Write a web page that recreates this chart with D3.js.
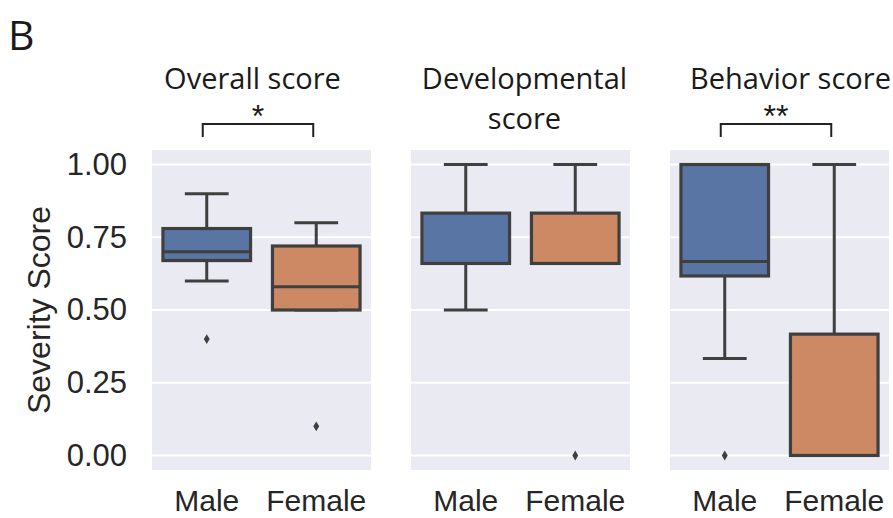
<!DOCTYPE html>
<html>
<head>
<meta charset="utf-8">
<script src="https://cdn.jsdelivr.net/npm/d3@7"></script>
<style>
  html, body { margin: 0; padding: 0; background: #ffffff; }
  svg { display: block; }
</style>
</head>
<body>
<svg id="chart" width="893" height="518"></svg>
<script>
// ---- data ----
const categories = ["Male", "Female"];
const panelTitles = [["Overall score"], ["Developmental", "score"], ["Behavior score"]];
// five-number summaries per panel: [lower whisker, Q1, median, Q3, upper whisker]
const maleStats = [
  [0.60, 0.67, 0.70, 0.78, 0.90],
  [0.50, 0.66, 0.66, 0.833, 1.00],
  [0.333, 0.617, 0.667, 1.00, 1.00]
];
const femaleStats = [
  [0.50, 0.50, 0.58, 0.72, 0.80],
  [0.66, 0.66, 0.66, 0.833, 1.00],
  [0.00, 0.00, 0.00, 0.417, 1.00]
];
const maleOutliers = [[0.40], [], [0.00]];
const femaleOutliers = [[0.10], [0.00], []];
const significance = ["*", "", "**"];
const yTicks = [0.00, 0.25, 0.50, 0.75, 1.00];
const yLabel = "Severity Score";
const panelLetter = "B";

// ---- styling ----
const colors = { Male: "#5975a4", Female: "#cc8963" };
const lineColor = "#3f3f3f";
const textColor = "#262626";
const tickFont = "'Liberation Sans', Arial, Helvetica, sans-serif";
const titleFont = "'Open Sans', 'Noto Sans', sans-serif";
const titleShift = [-9, 4, 11];

const svg = d3.select("#chart");

const panelScale = d3.scaleBand()
  .domain(d3.range(panelTitles.length))
  .range([152, 889])
  .paddingInner(40 / 259);

const y = d3.scaleLinear().domain([-0.05, 1.05]).range([470, 150]);

const x = d3.scaleBand().domain(categories).range([0, panelScale.bandwidth()]);
const boxW = x.bandwidth() * 0.8;
const capW = boxW * 0.5;

// thin diamond outlier marker
const thinDiamond = {
  draw(ctx, size) {
    const h = Math.sqrt(size) * 0.9;
    const w = h * 0.6;
    ctx.moveTo(0, -h);
    ctx.lineTo(w, 0);
    ctx.lineTo(0, h);
    ctx.lineTo(-w, 0);
    ctx.closePath();
  }
};

panelTitles.forEach((title, i) => {
  const g = svg.append("g").attr("transform", `translate(${panelScale(i)},0)`);
  const pw = panelScale.bandwidth();

  // background
  g.append("rect")
    .attr("x", 0).attr("y", y(1.05))
    .attr("width", pw).attr("height", y(-0.05) - y(1.05))
    .attr("fill", "#eaeaf2");

  // gridlines
  g.selectAll("line.grid").data(yTicks).join("line")
    .attr("class", "grid")
    .attr("x1", 0).attr("x2", pw)
    .attr("y1", d => y(d)).attr("y2", d => y(d))
    .attr("stroke", "#ffffff").attr("stroke-width", 2);

  // boxes
  const series = [
    { cat: "Male", s: maleStats[i], out: maleOutliers[i] },
    { cat: "Female", s: femaleStats[i], out: femaleOutliers[i] }
  ];
  series.forEach(({ cat, s, out }) => {
    const cx = x(cat) + x.bandwidth() / 2;
    const [lo, q1, med, q3, hi] = s;
    const bg = g.append("g");
    if (hi > q3) {
      bg.append("line").attr("x1", cx).attr("x2", cx).attr("y1", y(q3)).attr("y2", y(hi))
        .attr("stroke", lineColor).attr("stroke-width", 3);
    }
    if (lo < q1) {
      bg.append("line").attr("x1", cx).attr("x2", cx).attr("y1", y(q1)).attr("y2", y(lo))
        .attr("stroke", lineColor).attr("stroke-width", 3);
    }
    [lo, hi].forEach(v => {
      bg.append("line")
        .attr("x1", cx - capW / 2).attr("x2", cx + capW / 2)
        .attr("y1", y(v)).attr("y2", y(v))
        .attr("stroke", lineColor).attr("stroke-width", 3);
    });
    bg.append("rect")
      .attr("x", cx - boxW / 2).attr("y", y(q3))
      .attr("width", boxW).attr("height", y(q1) - y(q3))
      .attr("fill", colors[cat])
      .attr("stroke", lineColor).attr("stroke-width", 3.2);
    bg.append("line")
      .attr("x1", cx - boxW / 2).attr("x2", cx + boxW / 2)
      .attr("y1", y(med)).attr("y2", y(med))
      .attr("stroke", lineColor).attr("stroke-width", 3);
    bg.selectAll("path.out").data(out).join("path")
      .attr("class", "out")
      .attr("transform", d => `translate(${cx},${y(d)})`)
      .attr("d", d3.symbol().type(thinDiamond).size(30))
      .attr("fill", lineColor);
  });

  // category axis
  const xAxis = g.append("g")
    .attr("transform", `translate(0,${y(-0.05)})`)
    .call(d3.axisBottom(x).tickSize(0).tickPadding(20));
  xAxis.select(".domain").remove();
  xAxis.selectAll("text")
    .attr("font-family", tickFont).attr("font-size", 30).attr("fill", textColor);

  // title
  const tx = pw / 2 + titleShift[i];
  const t = g.append("text")
    .attr("text-anchor", "middle")
    .attr("font-family", titleFont).attr("font-size", 29)
    .attr("fill", "#1a1a1a");
  title.forEach((line, k) => {
    t.append("tspan").attr("x", tx).attr("y", 89 + k * 40).text(line);
  });

  // significance bracket
  if (significance[i]) {
    const x1 = x("Male") + x.bandwidth() / 2 - 4;
    const x2 = x("Female") + x.bandwidth() / 2 - 3;
    g.append("path")
      .attr("d", `M${x1},137V124H${x2}V137`)
      .attr("fill", "none").attr("stroke", "#222").attr("stroke-width", 2);
    g.append("text")
      .attr("x", (x1 + x2) / 2).attr("y", 127)
      .attr("text-anchor", "middle")
      .attr("font-family", tickFont).attr("font-size", 32)
      .attr("fill", "#1a1a1a")
      .text(significance[i]);
  }
});

// y axis on the first panel
const yAxis = svg.append("g")
  .attr("transform", `translate(${panelScale(0)},0)`)
  .call(d3.axisLeft(y).tickValues(yTicks).tickFormat(d3.format(".2f")).tickSize(0).tickPadding(25));
yAxis.select(".domain").remove();
yAxis.selectAll("text")
  .attr("font-family", tickFont).attr("font-size", 31).attr("fill", textColor);

svg.append("text")
  .attr("transform", `translate(50,${y(0.5)}) rotate(-90)`)
  .attr("text-anchor", "middle")
  .attr("font-family", tickFont).attr("font-size", 32).attr("fill", textColor)
  .text(yLabel);

svg.append("text")
  .attr("x", 8).attr("y", 50)
  .attr("font-family", titleFont).attr("font-size", 41)
  .attr("fill", "#1a1a1a")
  .text(panelLetter);
</script>
</body>
</html>
